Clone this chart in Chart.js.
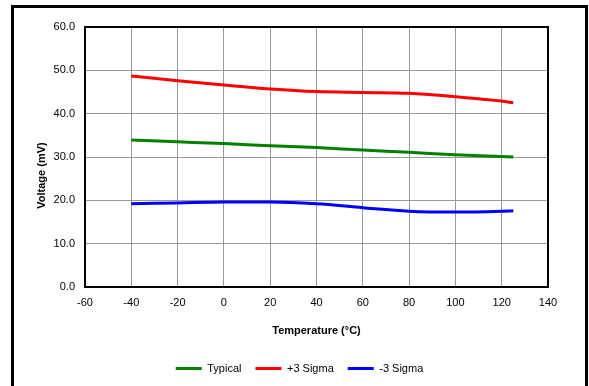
<!DOCTYPE html>
<html>
<head>
<meta charset="utf-8">
<script src="https://cdn.jsdelivr.net/npm/chart.js@4.4.0/dist/chart.umd.min.js"></script>
<style>
  body { margin: 0; background: #fff; }
  #wrap { position: relative; width: 589px; height: 386px; }
  #frame { position: absolute; left: 11px; top: 5px; width: 571px; height: 400px; border: 3px solid #000; box-sizing: content-box; }
  canvas { position: absolute; left: 0; top: 0; }
</style>
</head>
<body>
<div id="wrap">
  <div id="frame"></div>
  <canvas id="chart" width="589" height="386"></canvas>
</div>
<script>
// Données
const temperatures = [-40, -20, 0, 20, 40, 60, 80, 100, 120, 125];
const typical = [33.9, 33.5, 33.1, 32.6, 32.2, 31.6, 31.1, 30.5, 30.1, 30.0];
const plus3Sigma = [48.7, 47.6, 46.6, 45.7, 45.1, 44.9, 44.7, 43.9, 42.9, 42.5];
const minus3Sigma = [19.2, 19.4, 19.6, 19.6, 19.2, 18.3, 17.5, 17.3, 17.5, 17.6];
const seriesNames = ['Typical', '+3 Sigma', '-3 Sigma'];
const seriesColors = ['#008000', '#ff0000', '#0000ff'];
const yTitle = 'Voltage (mV)';

function toPoints(values) {
    return temperatures.map((t, i) => ({ x: t, y: values[i] }));
}

// Cadre noir autour de la zone de tracé + titre de l'axe Y
const plotBorder = {
    id: 'plotBorder',
    afterDraw(chart) {
        const a = chart.chartArea;
        const c = chart.ctx;
        c.save();
        c.strokeStyle = '#000';
        c.lineWidth = 2;
        c.strokeRect(a.left, a.top, a.right - a.left, a.bottom - a.top);
        c.translate(42, 175.5);
        c.rotate(-Math.PI / 2);
        c.font = 'bold 11px "Liberation Sans", Arial, sans-serif';
        c.fillStyle = '#000';
        c.textAlign = 'center';
        c.textBaseline = 'middle';
        c.fillText(yTitle, 0, 0);
        c.restore();
    }
};

Chart.defaults.font.family = '"Liberation Sans", Arial, sans-serif';
Chart.defaults.font.size = 11;
Chart.defaults.color = '#000';

const ctx = document.getElementById('chart').getContext('2d');
new Chart(ctx, {
    type: 'scatter',
    data: {
        datasets: [typical, plus3Sigma, minus3Sigma].map((vals, i) => ({
            label: seriesNames[i],
            data: toPoints(vals),
            showLine: true,
            borderColor: seriesColors[i],
            backgroundColor: seriesColors[i],
            borderWidth: 3,
            pointRadius: 0,
            pointHoverRadius: 0,
            tension: 0.4,
            cubicInterpolationMode: 'monotone'
        }))
    },
    options: {
        responsive: false,
        animation: false,
        layout: { padding: { left: 10, top: 27, right: 0, bottom: 2 } },
        scales: {
            x: {
                type: 'linear',
                min: -60,
                max: 140,
                ticks: { stepSize: 20, padding: 9 },
                grid: { color: '#999', lineWidth: 1, drawTicks: false },
                border: { display: false },
                title: { display: true, text: 'Temperature (°C)', font: { weight: 'bold' }, padding: { top: 4, bottom: 11 } },
                afterFit: s => { s.height = 62; }
            },
            y: {
                min: 0,
                max: 60,
                ticks: { stepSize: 10, padding: 10, callback: v => v.toFixed(1) },
                grid: { color: '#999', lineWidth: 1, drawTicks: false },
                border: { display: false },
                afterFit: s => { s.width = 75; }
            },
            // axe invisible pour réserver la marge droite
            yRight: {
                position: 'right',
                min: 0,
                max: 1,
                ticks: { display: false },
                grid: { display: false },
                border: { display: false },
                afterFit: s => { s.width = 41; }
            }
        },
        plugins: {
            legend: {
                position: 'bottom',
                labels: {
                    usePointStyle: true,
                    pointStyle: 'line',
                    pointStyleWidth: 26,
                    padding: 14,
                    boxHeight: 11
                }
            },
            tooltip: { enabled: false }
        }
    },
    plugins: [plotBorder]
});
</script>
</body>
</html>
